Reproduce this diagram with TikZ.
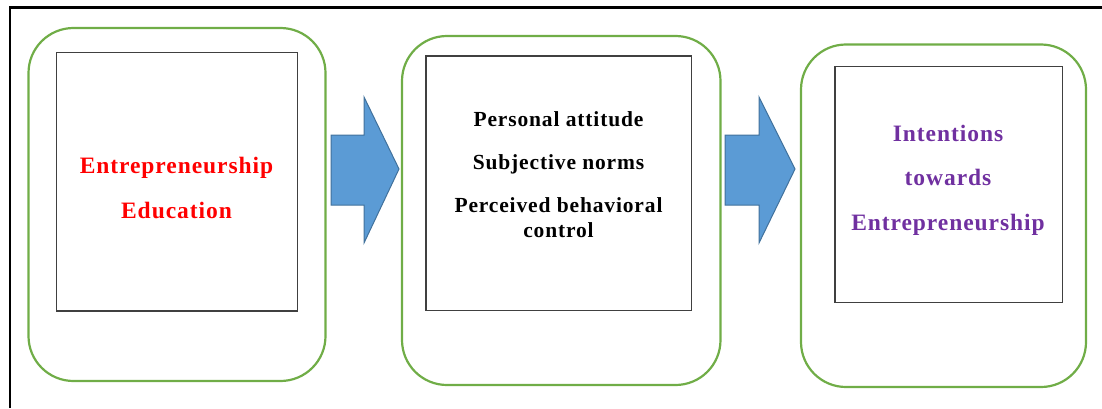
\documentclass[tikz,border=0pt]{standalone}
\usepackage{fontspec}
\setmainfont{Liberation Serif}
\usepackage{tikz}
\usetikzlibrary{positioning}
\definecolor{frameGreen}{HTML}{70AD47}
\definecolor{arrowBody}{HTML}{5B9BD5}
\definecolor{arrowBorder}{HTML}{41719C}
\definecolor{innerBorder}{HTML}{404040}
\definecolor{textPurple}{HTML}{7030A0}
\tikzstyle{outer} = [draw=frameGreen, line width=2.2pt, rounded corners=45pt,
        inner sep=0pt, outer sep=0pt]
\tikzstyle{inner} = [draw=innerBorder, line width=1.2pt, inner sep=0pt, outer sep=0pt]
\tikzstyle{label} = [align=center, inner sep=0pt,
        font={\bfseries\fontsize{23.5}{45}\selectfont\addfontfeature{LetterSpace=4}}]
\tikzstyle{factor} = [align=center, inner sep=0pt,
        font={\bfseries\fontsize{21.5}{24.7}\selectfont\addfontfeature{LetterSpace=4}}]
\tikzstyle{blockarrow} = [fill=arrowBody, draw=arrowBorder, line width=1pt, line join=miter]

\begin{document}
\begin{tikzpicture}[x=1pt, y=1pt]
    \useasboundingbox (0,0) rectangle (1102,408);
    \draw[line width=2.6pt] (10,0) -- (10,400.5) -- (1102,400.5);
    % the three stages
    \node [outer, minimum width=297pt, minimum height=353pt] (edu) at (177,203.5) {};
    \node [outer, minimum width=318.5pt, minimum height=349pt] (tpb) at (561.25,197.5) {};
    \node [outer, minimum width=285pt, minimum height=342.5pt] (intent) at (943.5,192.25) {};
    \node [inner, minimum width=241pt, minimum height=258.3pt] (eduIn) at (177.2,226.15) {};
    \node [inner, minimum width=265.7pt, minimum height=254.7pt] (tpbIn) at (558.85,224.65) {};
    \node [inner, minimum width=227.3pt, minimum height=235.6pt] (intentIn) at (948.65,223.5) {};
    \node [label, text=red] (eduText) at (176.5,220.4) {Entrepreneurship\\Education};
    \node [factor] (tpbText) at (558.5,233.7)
        {Personal attitude\\[18.3pt]Subjective norms\\[18.3pt]Perceived behavioral\\control};
    \node [label, text=textPurple, font={\bfseries\fontsize{23.5}{44.5}\selectfont\addfontfeature{LetterSpace=4}}]
        (intentText) at (948,227.8) {Intentions\\towards\\Entrepreneurship};
    % block arrows
    \draw[blockarrow] (331,203) -- (331,273) -- (364,273) -- (364,311) -- (399,239)
        -- (364,165) -- (364,203) -- cycle;
    \draw[blockarrow] (725,203) -- (725,273) -- (759,273) -- (759,311) -- (795,239)
        -- (759,165) -- (759,203) -- cycle;
\end{tikzpicture}
\end{document}
